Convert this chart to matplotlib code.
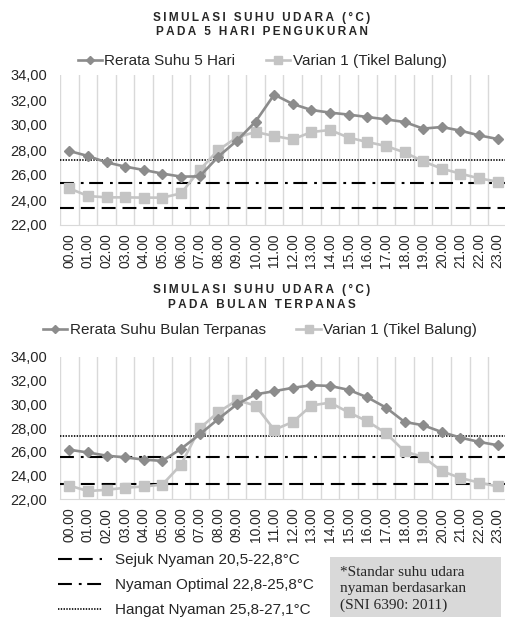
import matplotlib
matplotlib.use("Agg")
import matplotlib.pyplot as plt
from matplotlib.patches import Rectangle

plt.rcParams['font.family'] = ['Liberation Sans', 'DejaVu Sans']
plt.rcParams['lines.scale_dashes'] = False

hours = ["00.00", "01.00", "02.00", "03.00", "04.00", "05.00", "06.00", "07.00",
         "08.00", "09.00", "10.00", "11.00", "12.00", "13.00", "14.00", "15.00",
         "16.00", "17.00", "18.00", "19.00", "20.00", "21.00", "22.00", "23.00"]

# Chart 1: 5 hari pengukuran
rerata_5hari = [27.92, 27.52, 27.01, 26.67, 26.40, 26.11, 25.87, 25.89,
                27.47, 28.75, 30.27, 32.43, 31.68, 31.20, 30.99, 30.83,
                30.64, 30.45, 30.24, 29.71, 29.84, 29.55, 29.17, 28.88]
varian1_5hari = [24.93, 24.32, 24.21, 24.21, 24.19, 24.19, 24.53, 26.40,
                 28.00, 29.01, 29.44, 29.12, 28.85, 29.44, 29.60, 28.99,
                 28.64, 28.32, 27.81, 27.09, 26.51, 26.11, 25.73, 25.47]
ref_5hari = [23.4, 25.4, 27.2]   # sejuk, optimal, hangat

# Chart 2: bulan terpanas
rerata_panas = [26.17, 25.94, 25.67, 25.53, 25.34, 25.23, 26.25, 27.46,
                28.76, 30.00, 30.83, 31.10, 31.38, 31.60, 31.54, 31.21,
                30.58, 29.72, 28.51, 28.23, 27.66, 27.19, 26.83, 26.55]
varian1_panas = [23.16, 22.69, 22.80, 22.97, 23.08, 23.24, 24.92, 27.96,
                 29.34, 30.33, 29.89, 27.85, 28.51, 29.89, 30.14, 29.31,
                 28.57, 27.57, 26.03, 25.56, 24.37, 23.79, 23.41, 23.08]
ref_panas = [23.3, 25.55, 27.3]

yticks = [22, 24, 26, 28, 30, 32, 34]
ref_labels = ["Sejuk Nyaman 20,5-22,8\u00b0C",
              "Nyaman Optimal 22,8-25,8\u00b0C",
              "Hangat Nyaman 25,8-27,1\u00b0C"]
note_lines = ["*Standar suhu udara", "nyaman berdasarkan", "(SNI 6390: 2011)"]

C_RERATA = '#8c8c8c'
C_VARIAN = '#c4c4c4'
C_GRID = '#d9d9d9'
C_TEXT = '#262626'

W, H = 506, 617
fig = plt.figure(figsize=(W / 100, H / 100), dpi=100)
fig.patch.set_facecolor('white')

ref_styles = [dict(linestyle=(0, (10, 5)), linewidth=1.5),
              dict(linestyle=(0, (10, 5, 2, 4)), linewidth=1.5),
              dict(linestyle=(0, (1.0, 1.0)), linewidth=1.2)]


def spaced(s, sp='\u2009'):
    return sp.join(list(s))


def make_chart(top_px, bot_px, rerata, varian, refs, lab1, lab2, title2, title_y, legend_y, legend_x):
    ax = fig.add_axes([60 / W, 1 - bot_px / H, 447 / W, (bot_px - top_px) / H])
    x = list(range(len(hours)))
    ax.set_xlim(-0.5, len(hours) - 0.5)
    ax.set_ylim(22, 34)
    ax.set_xticks(x)
    ax.set_xticklabels(hours, rotation=90, fontsize=10, color=C_TEXT)
    ax.set_xticks([i - 0.5 for i in range(len(hours) + 1)], minor=True)
    ax.grid(True, which='minor', axis='x', color=C_GRID, linewidth=1.0)
    ax.grid(False, which='major')
    ax.set_yticks(yticks)
    ax.set_yticklabels([f"{v:.2f}".replace('.', ',') for v in yticks], fontsize=10.5, color=C_TEXT)
    ax.tick_params(axis='both', which='both', length=0)
    ax.tick_params(axis='y', pad=9)
    ax.tick_params(axis='x', pad=6)
    for s in ['top', 'right', 'left']:
        ax.spines[s].set_visible(False)
    ax.spines['bottom'].set_color(C_GRID)
    ax.set_axisbelow(True)

    hs = []
    for val, st in zip(refs, ref_styles):
        h = ax.axhline(val, color='black', zorder=2, **st)
        hs.append(h)
    l1, = ax.plot(x, rerata, color=C_RERATA, linewidth=1.9, marker='D', markersize=5.5,
                  label=lab1, zorder=4)
    l2, = ax.plot(x, varian, color=C_VARIAN, linewidth=1.9, marker='s', markersize=7,
                  label=lab2, zorder=3)

    fig.text(262 / W, 1 - title_y[0] / H, spaced("SIMULASI SUHU UDARA (\u00b0C)"),
             ha='center', va='center', fontsize=8.5, fontweight='bold', color=C_TEXT)
    fig.text(262 / W, 1 - title_y[1] / H, spaced(title2),
             ha='center', va='center', fontsize=8.5, fontweight='bold', color=C_TEXT)

    fig.legend(handles=[l1, l2], loc='center', ncol=2,
               bbox_to_anchor=(legend_x / W, 1 - legend_y / H),
               frameon=False, fontsize=11, handlelength=1.6, handletextpad=0.15,
               columnspacing=2.0, borderaxespad=0, borderpad=0,
               labelcolor=C_TEXT, markerscale=0.75)
    return ax, hs


ax1, _ = make_chart(75, 225, rerata_5hari, varian1_5hari, ref_5hari,
                    "Rerata Suhu 5 Hari", "Varian 1 (Tikel Balung)",
                    "PADA 5 HARI PENGUKURAN", (18, 32), 61, 262)
ax2, hs2 = make_chart(356.7, 499.3, rerata_panas, varian1_panas, ref_panas,
                      "Rerata Suhu Bulan Terpanas", "Varian 1 (Tikel Balung)",
                      "PADA BULAN TERPANAS", (290, 305), 330, 260)

for h, lab in zip(hs2, ref_labels):
    h.set_label(lab)
fig.legend(handles=hs2, loc='upper left', bbox_to_anchor=(58 / W, 1 - 553 / H),
           frameon=False, fontsize=11, handlelength=2.9, handletextpad=0.8,
           labelspacing=0.72, borderaxespad=0, borderpad=0, labelcolor=C_TEXT)

fig.patches.append(Rectangle((330 / W, 0), 171 / W, (617 - 557) / H,
                             transform=fig.transFigure, facecolor='#d9d9d9',
                             edgecolor='none', zorder=0))
for i, t in enumerate(note_lines):
    fig.text(340 / W, 1 - (572 + i * 16.5) / H, t, family=['Liberation Serif', 'DejaVu Serif'],
             fontsize=11, ha='left', va='center', color=C_TEXT)

fig.savefig("out.png", dpi=100)
